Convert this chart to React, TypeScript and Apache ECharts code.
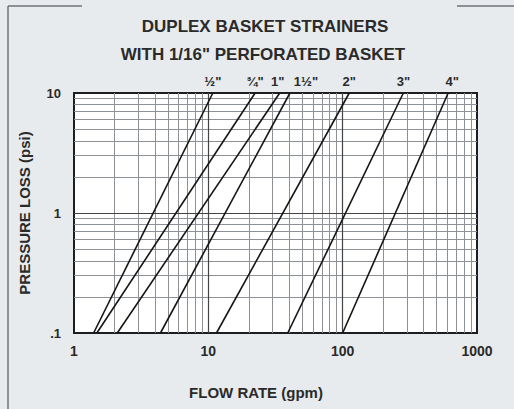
import React, { useEffect, useRef } from "react";
import * as echarts from "echarts";

// Strainer sizes (one line per size)
const sizes = ['½"', '¾"', '1"', '1½"', '2"', '3"', '4"'];
// Flow (gpm) at which each size reaches the lowest and highest pressure loss shown
const flowAtLowLoss = [1.4, 1.48, 2.1, 4.4, 11.5, 39, 100];
const flowAtHighLoss = [10.8, 22.3, 34, 40.5, 112, 283, 610];
const lossRange = [0.1, 10];

// Axis ticks
const xTickValues = [1, 10, 100, 1000];
const xTickLabels = ["1", "10", "100", "1000"];
const yTickValues = [0.1, 1, 10];
const yTickLabels = [".1", "1", "10"];
const xMinorGrid = [2, 3, 4, 5, 6, 7, 8, 9, 20, 30, 40, 50, 60, 70, 80, 90, 200, 300, 400, 500, 600, 700, 800, 900];
const yMinorGrid = [0.2, 0.3, 0.4, 0.5, 0.6, 0.7, 0.8, 0.9, 2, 3, 4, 5, 6, 7, 8, 9];

// Horizontal nudges of the size labels (style only)
const labelNudge = [0, 0, -2, 16, 0, 0, 4];

const FONT = "'Liberation Sans', Arial, Helvetica, sans-serif";
const INK = "#2a2a2a";

function pickLabel(v: number, values: number[], labels: string[]) {
  let best = 0;
  let bestD = Infinity;
  values.forEach((t, i) => {
    const d = Math.abs(Math.log10(v) - Math.log10(t));
    if (d < bestD) {
      bestD = d;
      best = i;
    }
  });
  return bestD < 0.01 ? labels[best] : "";
}

export default function App() {
  const ref = useRef<HTMLDivElement>(null);

  useEffect(() => {
    if (!ref.current) return;
    const chart = echarts.init(ref.current, undefined, { renderer: "svg" });

    const curveSeries = sizes.map((name, i) => ({
      name,
      type: "line",
      z: 5,
      symbol: "circle",
      symbolSize: 0,
      showSymbol: true,
      showAllSymbol: true,
      silent: true,
      clip: false,
      itemStyle: { color: "#151515" },
      lineStyle: { color: "#151515", width: 1.6 },
      data: [
        { value: [flowAtLowLoss[i], lossRange[0]], label: { show: false } },
        {
          value: [flowAtHighLoss[i], lossRange[1]],
          label: {
            show: true,
            position: "top",
            distance: 5,
            offset: [labelNudge[i], 0],
            formatter: name,
            fontFamily: FONT,
            fontWeight: "bold",
            fontSize: 13,
            color: INK,
          },
        },
      ],
    }));

    const gridSeries = {
      type: "line",
      z: 1,
      silent: true,
      data: [],
      markLine: {
        silent: true,
        symbol: "none",
        label: { show: false },
        animation: false,
        data: [
          ...xMinorGrid.map((v) => ({ xAxis: v, lineStyle: { color: "#8d9196", width: 1, type: "solid" } })),
          ...yMinorGrid.map((v) => ({ yAxis: v, lineStyle: { color: "#8d9196", width: 1, type: "solid" } })),
          ...xTickValues.slice(1, -1).map((v) => ({ xAxis: v, lineStyle: { color: "#444", width: 1.2, type: "solid" } })),
          ...yTickValues.slice(1, -1).map((v) => ({ yAxis: v, lineStyle: { color: "#444", width: 1.2, type: "solid" } })),
        ],
      },
    };

    const option: any = {
      animation: false,
      backgroundColor: "#e7ebee",
      grid: {
        left: 74,
        right: 37,
        top: 93,
        bottom: 76,
        show: true,
        backgroundColor: "#ffffff",
        borderColor: "#1e1e1e",
        borderWidth: 2,
      },
      xAxis: {
        type: "log",
        logBase: 10,
        min: xTickValues[0],
        max: xTickValues[xTickValues.length - 1],
        axisLine: { show: false },
        axisTick: { show: false },
        splitLine: { show: false },
        axisLabel: {
          margin: 11,
          fontFamily: FONT,
          fontWeight: "bold",
          fontSize: 14,
          color: INK,
          formatter: (v: number) => pickLabel(v, xTickValues, xTickLabels),
        },
      },
      yAxis: {
        type: "log",
        logBase: 10,
        min: yTickValues[0],
        max: yTickValues[yTickValues.length - 1],
        axisLine: { show: false },
        axisTick: { show: false },
        splitLine: { show: false },
        name: "PRESSURE LOSS (psi)",
        nameLocation: "middle",
        nameGap: 42,
        nameRotate: 90,
        nameTextStyle: {
          fontFamily: FONT,
          fontWeight: "bold",
          fontSize: 15,
          color: INK,
        },
        axisLabel: {
          margin: 13,
          fontFamily: FONT,
          fontWeight: "bold",
          fontSize: 13,
          color: INK,
          formatter: (v: number) => pickLabel(v, yTickValues, yTickLabels),
        },
      },
      graphic: [
        {
          type: "line",
          shape: { x1: 8, y1: 6, x2: 8, y2: 409 },
          style: { stroke: "#6f7378", lineWidth: 1.5 },
        },
        {
          type: "line",
          shape: { x1: 8, y1: 6, x2: 82, y2: 6 },
          style: { stroke: "#6f7378", lineWidth: 1.5 },
        },
        {
          type: "line",
          shape: { x1: 457, y1: 6, x2: 514, y2: 6 },
          style: { stroke: "#6f7378", lineWidth: 1.5 },
        },
        {
          type: "text",
          x: 265,
          y: 26,
          style: {
            text: "DUPLEX BASKET STRAINERS",
            fontFamily: FONT,
            fontWeight: "bold",
            fontSize: 17,
            fill: INK,
            textAlign: "center",
            textVerticalAlign: "middle",
          },
        },
        {
          type: "text",
          x: 263,
          y: 54,
          style: {
            text: 'WITH 1/16" PERFORATED BASKET',
            fontFamily: FONT,
            fontWeight: "bold",
            fontSize: 17,
            fill: INK,
            textAlign: "center",
            textVerticalAlign: "middle",
          },
        },
        {
          type: "text",
          x: 256,
          y: 392,
          style: {
            text: "FLOW RATE (gpm)",
            fontFamily: FONT,
            fontWeight: "bold",
            fontSize: 15,
            fill: INK,
            textAlign: "center",
            textVerticalAlign: "middle",
          },
        },
      ],
      series: [gridSeries, ...curveSeries],
    };

    chart.setOption(option);
    return () => chart.dispose();
  }, []);

  return (
    <div
      ref={ref}
      style={{ position: "fixed", left: 0, top: 0, width: 514, height: 409 }}
    />
  );
}
